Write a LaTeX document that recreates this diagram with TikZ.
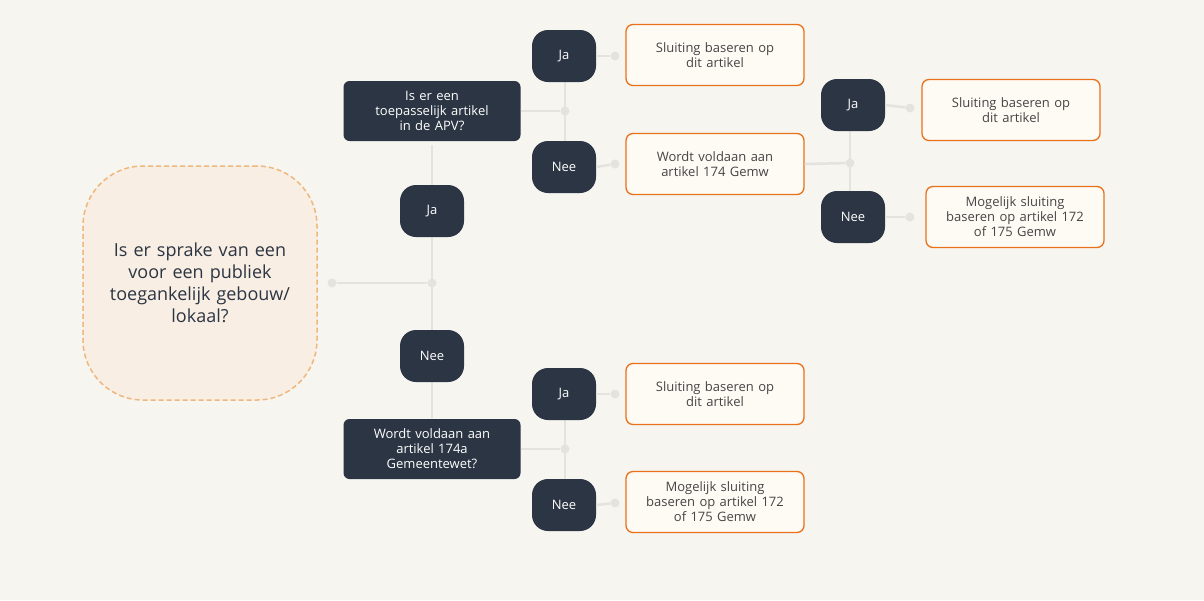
\documentclass[tikz,border=0pt]{standalone}
\usepackage{fontspec}
\setmainfont{Open Sans}
\definecolor{bg}{HTML}{F6F5F0}
\definecolor{dark}{HTML}{2B3543}
\definecolor{org}{HTML}{E8711C}
\definecolor{lfill}{HTML}{FEFBF5}
\definecolor{txt}{HTML}{454545}
\definecolor{ln}{HTML}{E4E3DE}
\definecolor{bigfill}{HTML}{F9EEE3}
\definecolor{bigline}{HTML}{F0B77C}
\begin{document}
\begin{tikzpicture}[x=1pt,y=-1pt,
  dq/.style={fill=dark,text=white,rounded corners=6pt,minimum width=177pt,minimum height=60pt,align=center,font=\fontsize{13}{15}\selectfont,text width=160pt},
  yn/.style={fill=dark,text=white,rounded corners=16pt,minimum width=64pt,minimum height=52pt,font=\fontsize{13}{15}\selectfont},
  res/.style={draw=org,line width=1.3pt,fill=lfill,text=txt,rounded corners=7pt,minimum width=178pt,minimum height=61pt,align=center,text width=165pt,font=\fontsize{13}{15}\selectfont},
  con/.style={draw=ln,line width=2.5pt},
  dot/.style={circle,fill=ln,inner sep=0pt,minimum size=9pt}]
\fill[bg] (0,0) rectangle (1204,600);
\useasboundingbox (0,0) rectangle (1204,600);
% connectors first
\node[dot] (d0) at (332,283) {};
\node[dot] (d1) at (432,283) {};
\coordinate (t1) at (432,145);
\coordinate (b1) at (432,418);
\draw[con] (d0) -- (d1); \draw[con] (t1) -- (b1);
\node[dot] (d2) at (565,111) {};
\coordinate (t2) at (565,56); \coordinate (b2) at (565,167);
\draw[con] (t2) -- (b2);
\node[dot] (d3) at (565,449) {};
\coordinate (t3) at (565,394); \coordinate (b3) at (565,505);
\draw[con] (t3) -- (b3);
\node[dot] (d4) at (850,163) {};
\coordinate (t4) at (850,105); \coordinate (b4) at (850,217);
\draw[con] (t4) -- (b4);
\node[dot] (e1) at (615,56) {};
\node[dot] (e2) at (615,164) {};
\node[dot] (e3) at (910,108) {};
\node[dot] (e4) at (910,217) {};
\node[dot] (e5) at (615,394) {};
\node[dot] (e6) at (615,503) {};
% nodes
\node[draw=bigline,dashed,line width=1.5pt,dash pattern=on 5pt off 3pt,fill=bigfill,rounded corners=60pt,minimum width=234pt,minimum height=234pt,align=center,text width=200pt,text=dark,font=\fontsize{18}{22}\selectfont] (big) at (200,283) {Is er sprake van een\\voor een publiek\\toegankelijk gebouw/\\lokaal?};
\node[yn] (ja1) at (432,211) {Ja};
\node[yn] (nee1) at (432,356) {Nee};
\node[dq] (q1) at (432,111) {Is er een\\toepasselijk artikel\\in de APV?};
\node[dq] (q2) at (432,449) {Wordt voldaan aan\\artikel 174a\\Gemeentewet?};
\node[yn] (ja2) at (564,56) {Ja};
\node[yn] (nee2) at (564,167) {Nee};
\node[yn] (ja3) at (564,394) {Ja};
\node[yn] (nee3) at (564,505) {Nee};
\node[yn] (ja4) at (853,105) {Ja};
\node[yn] (nee4) at (853,217) {Nee};
\node[res] (r1) at (715,55) {Sluiting baseren op\\dit artikel};
\node[res] (r2) at (715,164) {Wordt voldaan aan\\artikel 174 Gemw};
\node[res] (r3) at (1011,110) {Sluiting baseren op\\dit artikel};
\node[res] (r4) at (1015,217) {Mogelijk sluiting\\baseren op artikel 172\\of 175 Gemw};
\node[res] (r5) at (715,394) {Sluiting baseren op\\dit artikel};
\node[res] (r6) at (715,502) {Mogelijk sluiting\\baseren op artikel 172\\of 175 Gemw};
\begin{scope}[on background layer/.style={}]
\draw[con] (q1.east) -- (d2);
\draw[con] (q2.east) -- (d3);
\draw[con] (r2.east) -- (d4);
\draw[con] (ja2.east) -- (e1);
\draw[con] (nee2.east) -- (e2);
\draw[con] (ja4.east) -- (e3);
\draw[con] (nee4.east) -- (e4);
\draw[con] (ja3.east) -- (e5);
\draw[con] (nee3.east) -- (e6);
\end{scope}
\end{tikzpicture}
\end{document}
